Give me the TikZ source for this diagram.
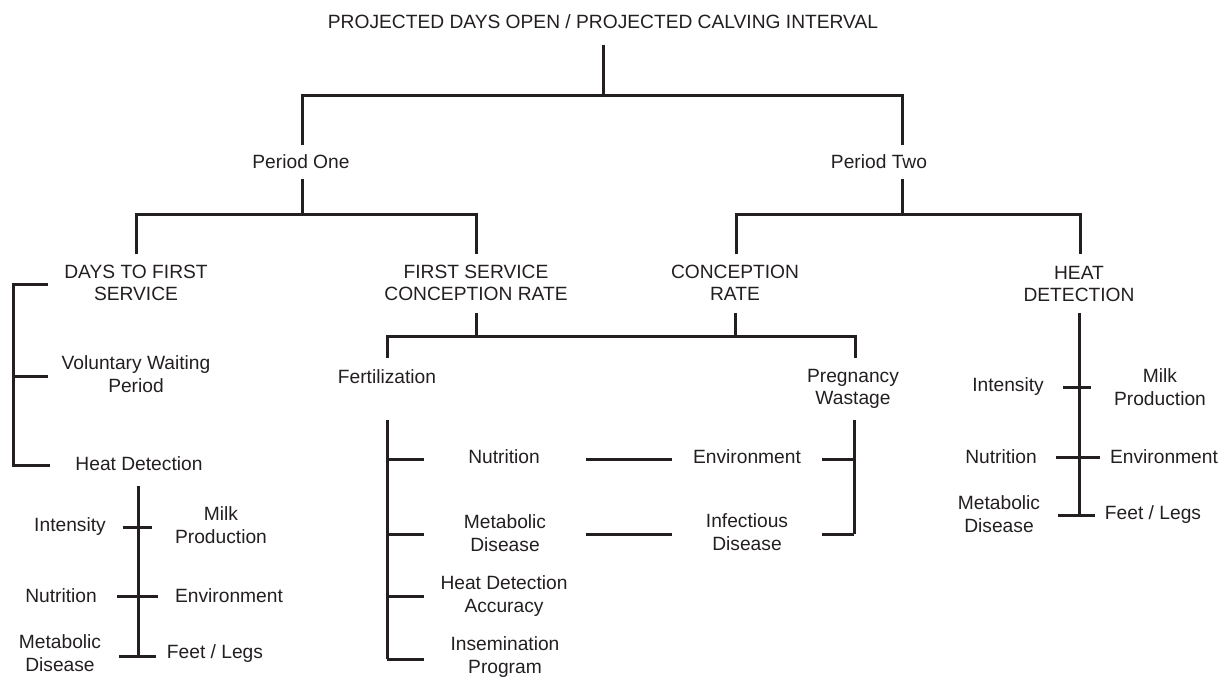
\documentclass[tikz,border=0pt]{standalone}
\usepackage{fontspec}
\setmainfont{Liberation Sans}
\definecolor{ink}{HTML}{231F20}
\begin{document}
\begin{tikzpicture}[x=1pt,y=-1pt,
  lbl/.style={inner sep=0pt,align=center,text=ink,font=\fontsize{19.2}{22.5}\selectfont},
  ln/.style={draw=ink,line width=3pt}]
\useasboundingbox (0,0) rectangle (1222,678);
% labels
\node[lbl] (title) at (603,22) {PROJECTED DAYS OPEN / PROJECTED CALVING INTERVAL};
\node[lbl] (p1) at (301,162) {Period One};
\node[lbl] (p2) at (879,162) {Period Two};
\node[lbl] (dfs) at (136,283) {DAYS TO FIRST\\SERVICE};
\node[lbl] (fscr) at (476,283) {FIRST SERVICE\\CONCEPTION RATE};
\node[lbl] (cr) at (735,283) {CONCEPTION\\RATE};
\node[lbl] (hd) at (1079,284) {HEAT\\DETECTION};
\node[lbl] (vwp) at (136,374) {Voluntary Waiting\\Period};
\node[lbl] (lhd) at (139,464) {Heat Detection};
\node[lbl] (fert) at (387,377) {Fertilization};
\node[lbl] (pw) at (853,389) {Pregnancy\\Wastage};
\node[lbl] (cnut) at (504,457) {Nutrition};
\node[lbl] (cenv) at (747,457) {Environment};
\node[lbl] (cmet) at (505,533) {Metabolic\\Disease};
\node[lbl] (cinf) at (747,532) {Infectious\\Disease};
\node[lbl] (chda) at (504,596) {Heat Detection\\Accuracy};
\node[lbl] (cins) at (505,657) {Insemination\\Program};
\node[lbl] (lint) at (70,527) {Intensity};
\node[lbl] (lmilk) at (221,525) {Milk\\Production};
\node[lbl] (lnut) at (61,596) {Nutrition};
\node[lbl] (lenv) at (229,596) {Environment};
\node[lbl] (lmet) at (60,653) {Metabolic\\Disease};
\node[lbl] (lfeet) at (215,654) {Feet / Legs};
\node[lbl] (rint) at (1008,387) {Intensity};
\node[lbl] (rmilk) at (1160,387) {Milk\\Production};
\node[lbl] (rnut) at (1001,457) {Nutrition};
\node[lbl] (renv) at (1164,457) {Environment};
\node[lbl] (rmet) at (999,514) {Metabolic\\Disease};
\node[lbl] (rfeet) at (1153,515) {Feet / Legs};
% junction coordinates
\coordinate (j0) at (603,95);
\coordinate (j1) at (302,214);
\coordinate (j2) at (902,214);
\coordinate (j3) at (476,336);
\coordinate (j4) at (735,336);
% top level
\draw[ln] (title.south |- 0,45) -- (j0);
\draw[ln] (302,145) |- (j0) -| (902,145);
% period one
\draw[ln] (302,179) -- (j1);
\draw[ln] (136,254) |- (j1) -| (476,254);
% period two
\draw[ln] (902,179) -- (j2);
\draw[ln] (736,254) |- (j2) -| (1080,254);
% days to first service bracket
\draw[ln] (48,284) -| (13,465) -- (50,465);
\draw[ln] (13,376) -- (48,376);
% left heat detection factors
\draw[ln] (138,486) -- (138,656);
\draw[ln] (123,527) -- (152,527);
\draw[ln] (117,596) -- (158,596);
\draw[ln] (119,656) -- (156,656);
% conception rate split
\draw[ln] (fscr.south |- 0,313) -- (j3);
\draw[ln] (cr.south |- 0,313) -- (j4);
\draw[ln] (387,358) |- (j3) -- (j4) -| (855,358);
% fertilization bracket
\draw[ln] (387,420) -- (387,659);
\draw[ln] (387,459) -- (424,459);
\draw[ln] (387,534) -- (424,534);
\draw[ln] (387,596) -- (424,596);
\draw[ln] (387,659) -- (424,659);
% pregnancy wastage bracket
\draw[ln] (854,420) -- (854,534);
\draw[ln] (822,459) -- (854,459);
\draw[ln] (822,534) -- (854,534);
% cross links
\draw[ln] (586,459) -- (672,459);
\draw[ln] (586,534) -- (672,534);
% right heat detection factors
\draw[ln] (1079,313) -- (1079,515);
\draw[ln] (1063,387) -- (1091,387);
\draw[ln] (1056,457) -- (1100,457);
\draw[ln] (1058,515) -- (1095,515);
\end{tikzpicture}
\end{document}
